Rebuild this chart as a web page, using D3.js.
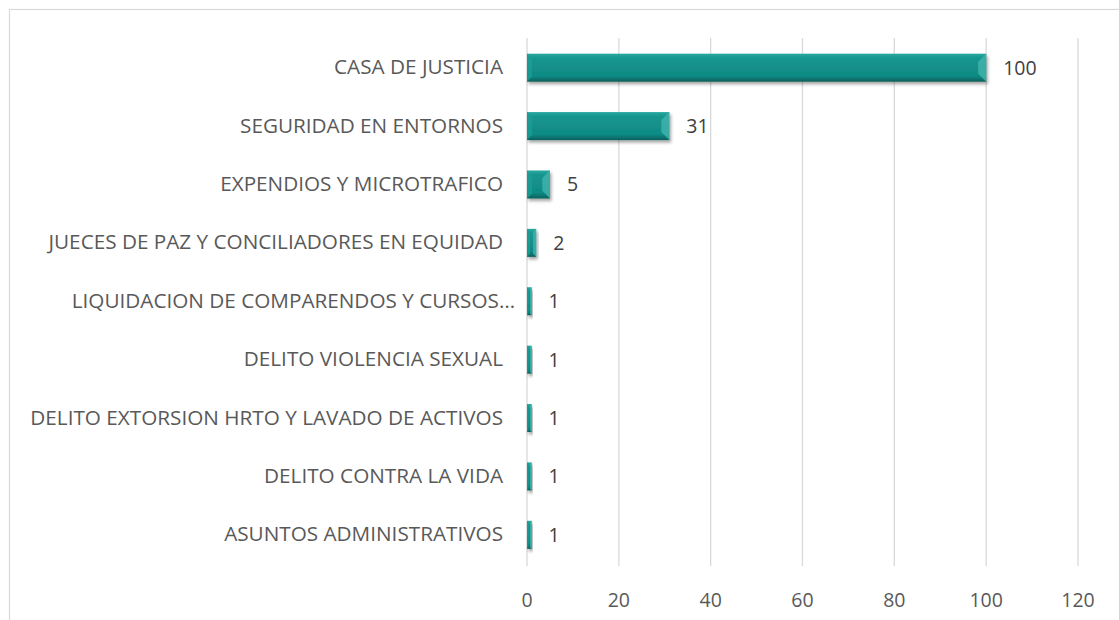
<!DOCTYPE html>
<html lang="es">
<head>
<meta charset="UTF-8">
<script src="https://d3js.org/d3.v7.min.js"></script>
<title>Chart</title>
<style>
  body { margin: 0; background: #fff; }
  text { font-family: "Open Sans", sans-serif; }
</style>
</head>
<body>
<div id="canvas"></div>
<script>
const categories = [
  "CASA DE JUSTICIA",
  "SEGURIDAD EN ENTORNOS",
  "EXPENDIOS Y MICROTRAFICO",
  "JUECES DE PAZ Y CONCILIADORES EN EQUIDAD",
  "LIQUIDACION DE COMPARENDOS Y CURSOS\u2026",
  "DELITO VIOLENCIA SEXUAL",
  "DELITO EXTORSION HRTO Y LAVADO DE ACTIVOS",
  "DELITO CONTRA LA VIDA",
  "ASUNTOS ADMINISTRATIVOS"
]
const values = [100, 31, 5, 2, 1, 1, 1, 1, 1]
const ticks = [0, 20, 40, 60, 80, 100, 120]

const W = 1119, H = 620
const svg = d3.select("#canvas").append("svg").attr("width", W).attr("height", H)

// chart border
svg.append("rect").attr("x", 9.5).attr("y", 9.5).attr("width", W + 10).attr("height", H + 10)
   .attr("fill", "none").attr("stroke", "#d9d9d9").attr("stroke-width", 1.2)

const defs = svg.append("defs")
const grad = defs.append("linearGradient").attr("id", "barGrad").attr("x1", 0).attr("y1", 0).attr("x2", 0).attr("y2", 1)
grad.append("stop").attr("offset", "0%").attr("stop-color", "#2aa9a2")
grad.append("stop").attr("offset", "15%").attr("stop-color", "#18968f")
grad.append("stop").attr("offset", "80%").attr("stop-color", "#0f8a84")
grad.append("stop").attr("offset", "100%").attr("stop-color", "#0a5f5a")
const sh = defs.append("filter").attr("id", "shadow").attr("x", "-10%").attr("y", "-30%").attr("width", "130%").attr("height", "180%")
sh.append("feDropShadow").attr("dx", 1.5).attr("dy", 2.5).attr("stdDeviation", 1.8).attr("flood-color", "#000").attr("flood-opacity", 0.35)

const x = d3.scaleLinear().domain([0, 120]).range([527, 1078])
const y = d3.scaleBand().domain(categories).range([38.5, 564]).paddingInner(0.52).paddingOuter(0.26)

// gridlines
svg.append("g").selectAll("line").data(ticks).join("line")
   .attr("x1", d => x(d)).attr("x2", d => x(d))
   .attr("y1", 38).attr("y2", 566)
   .attr("stroke", "#d9d9d9").attr("stroke-width", 1.3)

// tick labels
svg.append("g").selectAll("text").data(ticks).join("text")
   .attr("x", d => x(d)).attr("y", 607)
   .attr("text-anchor", "middle").attr("font-size", 19.5).attr("fill", "#595959")
   .text(d => d)

// category labels, sized so the longest one spans ~473px like the original
// (the truncated one sits a bit further right, as excel does)
const catText = svg.append("g").selectAll("text").data(categories).join("text")
   .attr("x", d => d.endsWith("\u2026") ? 515 : 503)
   .attr("y", d => y(d) + y.bandwidth() / 2 + 6.5)
   .attr("text-anchor", "end").attr("font-size", 18).attr("fill", "#595959")
   .text(d => d)
let longest = 0
catText.each(function () { longest = Math.max(longest, this.getComputedTextLength()) })
catText.attr("font-size", 18 * 473 / longest)

// bars
const bars = svg.append("g").selectAll("g").data(values).join("g")
   .attr("filter", "url(#shadow)")
bars.append("rect")
   .attr("x", x(0))
   .attr("y", (d, i) => y(categories[i]))
   .attr("width", d => x(d) - x(0))
   .attr("height", y.bandwidth())
   .attr("fill", "url(#barGrad)")
// bevel ends
bars.append("path")
   .attr("d", (d, i) => {
     const x0 = x(0), x1 = x(d), y0 = y(categories[i]), h = y.bandwidth()
     const b = Math.min(8, (x1 - x0) / 3)
     return `M${x1},${y0} L${x1 - b},${y0 + b} L${x1 - b},${y0 + h - b} L${x1},${y0 + h} Z`
   })
   .attr("fill", "#3fb3ac").attr("opacity", 0.85)
bars.append("path")
   .attr("d", (d, i) => {
     const x0 = x(0), x1 = x(d), y0 = y(categories[i]), h = y.bandwidth()
     const b = Math.min(5, (x1 - x0) / 3)
     return `M${x0},${y0} L${x0 + b},${y0 + b} L${x0 + b},${y0 + h - b} L${x0},${y0 + h} Z`
   })
   .attr("fill", "#1c9c95").attr("opacity", 0.8)

// value labels
svg.append("g").selectAll("text").data(values).join("text")
   .attr("x", d => x(d) + 17)
   .attr("y", (d, i) => y(categories[i]) + y.bandwidth() / 2 + 7)
   .attr("font-size", 19.5).attr("fill", "#404040")
   .text(d => d)
</script>
</body>
</html>
